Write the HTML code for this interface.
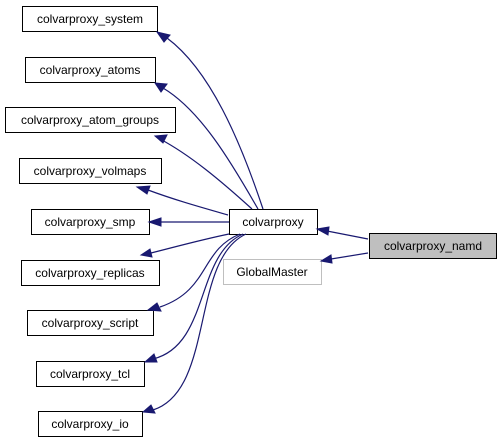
<!DOCTYPE html>
<html><head><style>
body{margin:0;background:#fff;}
svg{display:block;}
text{font-family:"Liberation Sans",sans-serif;font-size:12px;fill:#000;}
</style></head><body>
<svg width="501" height="443" viewBox="0 0 501 443">
<g fill="#fff" stroke="#000" stroke-width="1">
<rect x="22.5" y="6.5" width="135" height="25"/>
<rect x="25.5" y="57.5" width="130" height="25"/>
<rect x="5.5" y="107.5" width="170" height="25"/>
<rect x="19.5" y="158.5" width="142" height="25"/>
<rect x="31.5" y="209.5" width="118" height="25"/>
<rect x="229.5" y="209.5" width="88" height="25"/>
<rect x="21.5" y="260.5" width="138" height="25"/>
<rect x="27.5" y="310.5" width="126" height="25"/>
<rect x="36.5" y="361.5" width="108" height="25"/>
<rect x="38.5" y="411.5" width="104" height="25"/>
<rect x="223.5" y="259.5" width="98" height="25" stroke="#bfbfbf"/>
<rect x="369.5" y="233.5" width="127" height="25" fill="#bfbfbf"/>
</g>
<g text-anchor="middle">
<text x="90" y="23">colvarproxy_system</text>
<text x="90" y="74">colvarproxy_atoms</text>
<text x="90" y="124">colvarproxy_atom_groups</text>
<text x="90" y="175">colvarproxy_volmaps</text>
<text x="90" y="226">colvarproxy_smp</text>
<text x="273" y="226">colvarproxy</text>
<text x="90" y="277">colvarproxy_replicas</text>
<text x="90" y="327">colvarproxy_script</text>
<text x="90" y="378">colvarproxy_tcl</text>
<text x="90" y="428">colvarproxy_io</text>
<text x="272" y="276">GlobalMaster</text>
<text x="433" y="250">colvarproxy_namd</text>
</g>
<g fill="none" stroke="#191970" stroke-width="1.2">
<path d="M368,239 L327,231"/>
<path d="M368,253 L331,259"/>
<path d="M263,209 C240,140 210,70 167,38"/>
<path d="M258,209 C230,160 200,110 163,88"/>
<path d="M252,209 C220,180 190,155 160,139"/>
<path d="M228,215 C200,207 175,200 148,190"/>
<path d="M229,222 L160,222"/>
<path d="M229,234 C200,240 175,247 151,253"/>
<path d="M240,234 C200,250 210,290 160,307"/>
<path d="M243,234 C195,255 210,345 153,359"/>
<path d="M246,234 C190,260 215,390 153,410"/>
</g>
<g fill="#191970" stroke="#191970">
<polygon points="317,229 329,227 328,235"/>
<polygon points="321,261 331,255 332,263"/>
<polygon points="157,32 170,35 164,42"/>
<polygon points="155,83 167,84 161,92"/>
<polygon points="155,136 167,135 163,143"/>
<polygon points="137,187 150,186 147,194"/>
<polygon points="149,222 161,218 161,226"/>
<polygon points="141,255 150,249 152,257"/>
<polygon points="148,310 157,303 161,311"/>
<polygon points="145,362 154,354 157,362"/>
<polygon points="143,412 151,405 155,413"/>
</g>
</svg>
</body></html>
